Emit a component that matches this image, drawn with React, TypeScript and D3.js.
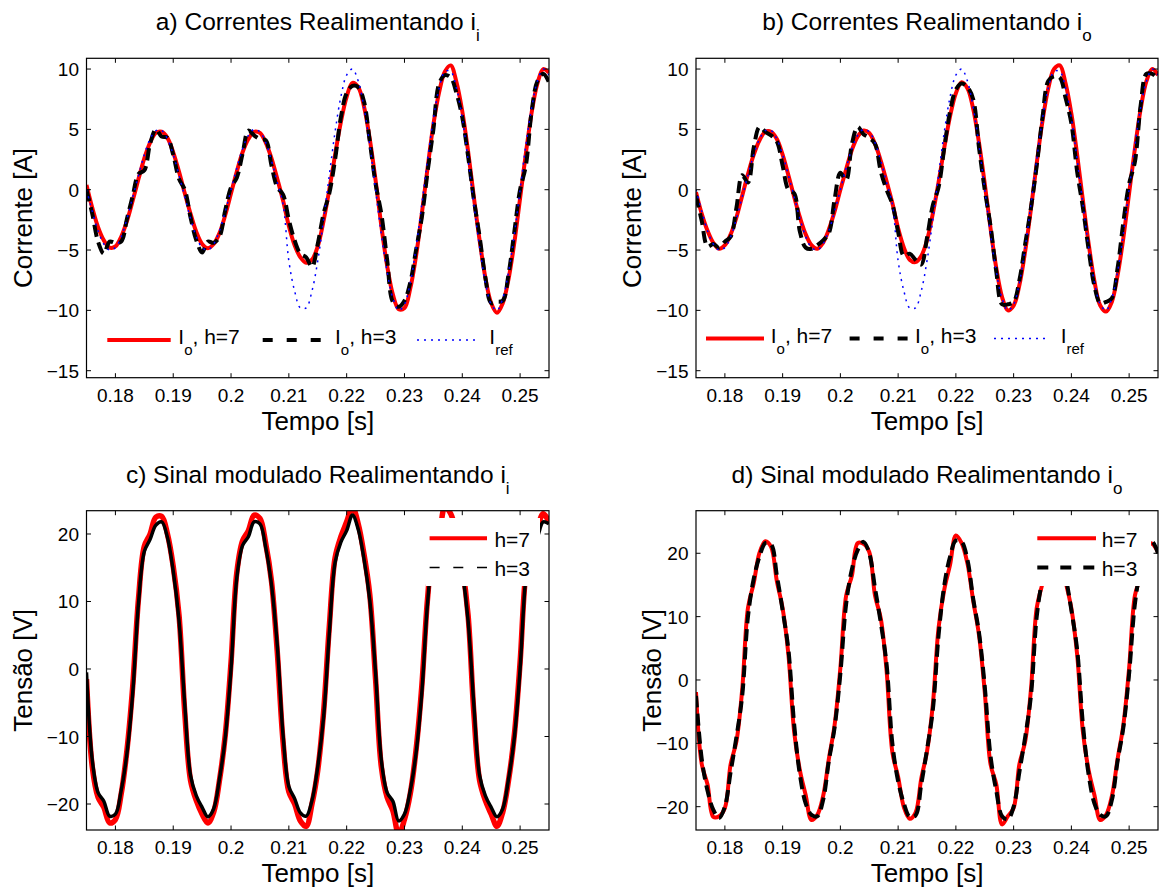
import React from 'react';
import * as d3 from 'd3';

// ---------------- data ----------------
const TIME = [
  0.175, 0.176, 0.177, 0.178, 0.179, 0.18, 0.181, 0.182, 0.183, 0.184,
  0.185, 0.186, 0.187, 0.188, 0.189, 0.19, 0.191, 0.192, 0.193, 0.194,
  0.195, 0.196, 0.197, 0.198, 0.199, 0.2, 0.201, 0.202, 0.203, 0.204,
  0.205, 0.206, 0.207, 0.208, 0.209, 0.21, 0.211, 0.212, 0.213, 0.214,
  0.215, 0.216, 0.217, 0.218, 0.219, 0.22, 0.221, 0.222, 0.223, 0.224,
  0.225, 0.226, 0.227, 0.228, 0.229, 0.23, 0.231, 0.232, 0.233, 0.234,
  0.235, 0.236, 0.237, 0.238, 0.239, 0.24, 0.241, 0.242, 0.243, 0.244,
  0.245, 0.246, 0.247, 0.248, 0.249, 0.25, 0.251, 0.252, 0.253, 0.254,
  0.255,
];

const X_TICKS = [0.18, 0.19, 0.2, 0.21, 0.22, 0.23, 0.24, 0.25];
const X_TICK_LABELS = ['0.18', '0.19', '0.2', '0.21', '0.22', '0.23', '0.24', '0.25'];
const Y_TICKS_CURRENT = [-15, -10, -5, 0, 5, 10];
const Y_TICKS_VOLTAGE = [-20, -10, 0, 10, 20];

// a) currents, feedback i_i
const A_H7 = [
  0.4, -1.5, -3.1, -4.2, -4.8, -4.7, -3.9, -2.6, -0.9, 0.9,
  2.6, 3.9, 4.7, 4.8, 4.3, 3.1, 1.5, -0.3, -2.0, -3.5,
  -4.5, -4.85, -4.5, -3.6, -2.1, -0.3, 1.5, 3.1, 4.2, 4.8,
  4.7, 3.9, 2.6, 0.9, -0.9, -3.0, -4.6, -5.6, -6.05, -5.8,
  -4.7, -2.6, 0.0, 2.9, 5.6, 7.7, 8.85, 8.5, 6.9, 4.2,
  0.8, -3.0, -6.3, -8.7, -9.9, -9.8, -8.2, -5.5, -2.0, 1.8,
  5.4, 8.1, 9.8, 10.3, 8.9, 6.5, 3.2, -0.6, -4.2, -7.3,
  -9.4, -10.2, -9.4, -7.4, -4.4, -0.7, 3.0, 6.4, 8.8, 10.0,
  9.7,
];
const A_H3 = [
  0.0, -2.0, -4.3, -5.3, -4.3, -4.4, -4.3, -2.4, -0.5, 1.3,
  1.6, 3.8, 5.0, 4.4, 4.3, 2.9, 0.9, 0.0, -2.3, -4.2,
  -5.2, -4.3, -4.4, -3.9, -1.7, 0.2, 1.0, 3.0, 4.9, 4.5,
  4.2, 4.1, 2.0, 0.2, -0.4, -2.5, -4.2, -5.3, -5.6, -6.4,
  -4.5, -2.0, -0.3, 2.5, 6.0, 8.0, 8.6, 8.5, 7.3, 4.0,
  0.5, -2.0, -5.8, -9.3, -9.7, -9.2, -7.7, -5.0, -2.3, 1.5,
  5.0, 8.8, 9.5, 9.3, 8.0, 6.0, 2.8, -0.8, -3.9, -7.3,
  -9.4, -9.3, -9.2, -7.0, -3.5, 0.0, 2.0, 6.5, 9.0, 9.6,
  8.9,
];
// reference current (same in a and b)
const I_REF = [
  0.0, -1.8, -3.4, -4.5, -5.0, -4.8, -3.9, -2.4, -0.6, 1.2,
  2.9, 4.2, 4.9, 4.9, 4.2, 2.9, 1.2, -0.6, -2.4, -3.9,
  -4.8, -5.0, -4.5, -3.4, -1.8, 0.0, 1.8, 3.4, 4.5, 5.0,
  4.8, 3.9, 2.4, 0.6, -1.2, -5.9, -8.4, -9.8, -9.8, -8.4,
  -5.9, -2.5, 1.2, 4.8, 7.7, 9.5, 10.0, 9.0, 6.8, 3.7,
  0.0, -3.7, -6.8, -9.0, -10.0, -9.5, -7.7, -4.8, -1.2, 2.5,
  5.9, 8.4, 9.8, 9.8, 8.4, 5.9, 2.5, -1.2, -4.8, -7.7,
  -9.5, -10.0, -9.0, -6.8, -3.7, 0.0, 3.7, 6.8, 9.0, 10.0,
  9.5,
];

// b) currents, feedback i_o
const B_H7 = [
  -0.2, -2.0, -3.4, -4.4, -4.9, -4.6, -3.7, -2.3, -0.5, 1.3,
  2.9, 4.1, 4.8, 4.8, 4.2, 2.9, 1.2, -0.6, -2.3, -3.7,
  -4.6, -4.9, -4.4, -3.3, -1.8, 0.0, 1.7, 3.3, 4.4, 4.9,
  4.7, 3.8, 2.4, 0.7, -1.1, -3.2, -4.8, -5.8, -6.0, -5.5,
  -4.2, -2.0, 0.6, 3.5, 6.1, 8.0, 8.9, 8.4, 6.7, 3.9,
  0.5, -3.2, -6.5, -8.9, -10.0, -9.6, -7.9, -5.1, -1.6, 2.2,
  5.7, 8.4, 10.0, 10.3, 8.8, 6.3, 2.9, -0.9, -4.5, -7.6,
  -9.6, -10.1, -9.3, -7.1, -4.0, -0.3, 3.4, 6.7, 9.0, 10.0,
  9.5,
];
const B_H3 = [
  -0.5, -2.6, -4.7, -4.5, -4.8, -4.3, -3.9, -1.5, 1.2, 0.6,
  3.5, 5.2, 4.8, 4.5, 4.0, 2.0, 0.0, -0.3, -3.5, -4.8,
  -4.9, -4.6, -4.2, -3.6, -0.8, 1.4, 0.8, 3.8, 5.2, 4.6,
  4.3, 3.8, 1.5, 0.0, -1.2, -3.5, -5.5, -5.3, -5.8, -6.2,
  -4.0, -1.3, 0.2, 3.5, 6.5, 8.3, 8.8, 8.5, 7.5, 3.5,
  0.0, -3.0, -6.8, -9.5, -9.5, -9.3, -7.5, -4.5, -1.5, 2.0,
  6.0, 9.0, 9.4, 9.3, 7.6, 5.5, 1.5, -1.5, -5.0, -8.0,
  -9.4, -9.3, -9.0, -6.5, -2.7, 0.5, 2.3, 7.0, 9.6, 9.6,
  9.2,
];

// c) modulated signal, feedback i_i
const C_H7 = [
  -1.5, -14.5, -19.0, -20.5, -22.8, -22.3, -18.5, -12.0, -2.5, 10.5,
  18.2, 20.0, 22.5, 22.6, 20.0, 15.2, 8.0, -6.5, -16.5, -19.5,
  -21.5, -22.8, -21.2, -16.5, -9.8, 1.0, 14.3, 19.0, 20.5, 22.8,
  22.3, 18.6, 13.0, 2.5, -10.8, -18.2, -20.0, -22.5, -23.3, -20.0,
  -15.0, -6.5, 6.3, 16.5, 19.6, 21.8, 24.0, 21.5, 17.0, 11.0,
  -1.5, -14.5, -19.0, -21.0, -24.5, -22.3, -18.5, -12.0, -2.5, 10.5,
  18.2, 20.0, 24.0, 23.0, 20.0, 15.2, 8.0, -6.5, -16.5, -19.5,
  -21.5, -23.3, -21.2, -16.5, -9.8, 1.0, 14.3, 19.0, 21.0, 23.0,
  21.8,
];
const C_H3 = [
  -0.5, -13.5, -18.3, -19.6, -21.8, -21.5, -18.0, -12.5, -3.5, 9.8,
  17.4, 19.2, 21.3, 21.8, 19.5, 14.5, 7.2, -5.3, -15.8, -18.8,
  -20.5, -21.9, -20.7, -16.3, -10.2, 0.0, 13.5, 18.3, 19.6, 21.8,
  21.5, 18.0, 12.5, 3.5, -9.8, -17.4, -19.2, -21.3, -21.8, -19.5,
  -14.5, -7.2, 5.3, 15.8, 18.8, 20.5, 22.8, 20.7, 16.3, 10.2,
  -0.5, -13.5, -18.3, -19.6, -22.5, -21.5, -18.0, -12.5, -3.5, 9.8,
  17.4, 19.2, 21.3, 21.8, 19.5, 14.5, 7.2, -5.3, -15.8, -18.8,
  -20.5, -21.9, -20.7, -16.3, -10.2, 0.0, 13.5, 18.3, 19.6, 21.8,
  21.5,
];

// d) modulated signal, feedback i_o
const D_H7 = [
  -1.9, -13.3, -16.5, -21.6, -21.5, -20.2, -13.3, -9.7, -1.5, 11.4,
  15.3, 20.1, 21.9, 21.0, 15.6, 11.3, 4.0, -8.2, -14.3, -18.2,
  -22.1, -21.3, -18.4, -12.5, -7.1, 1.9, 13.3, 16.5, 21.6, 21.5,
  20.2, 13.3, 9.7, 1.5, -11.4, -15.3, -20.1, -21.9, -21.0, -15.6,
  -11.3, -4.0, 8.2, 14.3, 18.2, 22.8, 21.6, 18.4, 12.5, 7.1,
  -1.9, -13.3, -16.5, -22.8, -21.5, -20.2, -13.3, -9.7, -1.5, 11.4,
  15.3, 20.1, 21.9, 21.0, 15.6, 11.3, 4.0, -8.2, -14.3, -18.2,
  -22.1, -21.3, -18.4, -12.5, -7.1, 1.9, 13.3, 16.5, 21.6, 21.5,
  20.2,
];
const D_H3 = [
  -2.5, -12.5, -17.5, -20.5, -21.8, -20.0, -14.5, -9.0, -2.5, 10.0,
  16.0, 19.5, 21.6, 21.4, 16.5, 11.0, 4.8, -7.0, -15.0, -19.5,
  -21.3, -21.5, -19.0, -12.8, -7.5, 1.0, 12.0, 17.5, 20.5, 21.8,
  20.0, 14.5, 9.0, 2.5, -10.0, -16.0, -19.5, -21.6, -21.4, -16.5,
  -11.0, -4.8, 7.0, 15.0, 19.5, 22.0, 21.8, 19.0, 12.8, 7.5,
  -1.0, -12.0, -17.5, -21.5, -22.0, -20.0, -14.5, -9.0, -2.5, 10.0,
  16.0, 19.5, 21.6, 21.4, 16.5, 11.0, 4.8, -7.0, -15.0, -19.5,
  -21.3, -21.5, -19.0, -12.8, -7.5, 1.0, 12.0, 17.5, 20.5, 21.8,
  20.0,
];

// ---------------- styling ----------------
const FONT = '"Liberation Sans", Arial, Helvetica, sans-serif';
const RED = '#ff0000';
const BLUE = '#0000ff';

type Series = { values: number[]; color: string; width: number; dash?: string };

type PanelProps = {
  id: string;
  left: number;
  right: number;
  top: number;
  bottom: number;
  yDomain: [number, number];
  yTicks: number[];
  titleMain: string;
  titleSub: string;
  titleY: number;
  yLabel: string;
  yLabelX: number;
  series: Series[];
  children?: React.ReactNode;
};

const fmtY = (v: number) => (v < 0 ? '\u2212' + Math.abs(v) : String(v));

function Panel(p: PanelProps) {
  const x = d3.scaleLinear().domain([0.175, 0.255]).range([p.left, p.right]);
  const y = d3.scaleLinear().domain(p.yDomain).range([p.bottom, p.top]);
  const line = d3
    .line<number>()
    .x((_, i) => x(TIME[i]))
    .y((v) => y(v))
    .curve(d3.curveCatmullRom.alpha(0.5));
  const tl = 4.5;
  const cx = (p.left + p.right) / 2;
  const cy = (p.top + p.bottom) / 2;
  return (
    <g>
      <defs>
        <clipPath id={'clip-' + p.id}>
          <rect x={p.left} y={p.top} width={p.right - p.left} height={p.bottom - p.top} />
        </clipPath>
      </defs>
      <g clipPath={`url(#clip-${p.id})`}>
        {p.series.map((s, i) => (
          <path
            key={i}
            d={line(s.values) || ''}
            fill="none"
            stroke={s.color}
            strokeWidth={s.width}
            strokeDasharray={s.dash}
            strokeLinejoin="round"
          />
        ))}
        {p.children}
      </g>
      {X_TICKS.map((t, i) => (
        <g key={'xt' + i}>
          <line x1={x(t)} x2={x(t)} y1={p.bottom} y2={p.bottom - tl} stroke="#000" strokeWidth={1} />
          <line x1={x(t)} x2={x(t)} y1={p.top} y2={p.top + tl} stroke="#000" strokeWidth={1} />
          <text x={x(t)} y={p.bottom + 23.8} textAnchor="middle" fontSize={19} fontFamily={FONT} fill="#000">
            {X_TICK_LABELS[i]}
          </text>
        </g>
      ))}
      {p.yTicks.map((t, i) => (
        <g key={'yt' + i}>
          <line x1={p.left} x2={p.left + tl} y1={y(t)} y2={y(t)} stroke="#000" strokeWidth={1} />
          <line x1={p.right} x2={p.right - tl} y1={y(t)} y2={y(t)} stroke="#000" strokeWidth={1} />
          <text x={p.left - 7.5} y={y(t) + 7} textAnchor="end" fontSize={19} fontFamily={FONT} fill="#000">
            {fmtY(t)}
          </text>
        </g>
      ))}
      <rect
        x={p.left}
        y={p.top}
        width={p.right - p.left}
        height={p.bottom - p.top}
        fill="none"
        stroke="#000"
        strokeWidth={1.2}
      />
      <text x={cx} y={p.titleY} textAnchor="middle" fontSize={24.5} fontFamily={FONT} fill="#000">
        <tspan>{p.titleMain}</tspan>
        <tspan fontSize={17} dy={11}>
          {p.titleSub}
        </tspan>
      </text>
      <text x={cx} y={p.bottom + 52.3} textAnchor="middle" fontSize={26} fontFamily={FONT} fill="#000">
        Tempo [s]
      </text>
      <text
        transform={`translate(${p.yLabelX},${cy}) rotate(-90)`}
        textAnchor="middle"
        fontSize={26}
        fontFamily={FONT}
        fill="#000"
      >
        {p.yLabel}
      </text>
    </g>
  );
}

function SubLabel({ x, y, main, sub, rest }: { x: number; y: number; main: string; sub: string; rest?: string }) {
  return (
    <text x={x} y={y} fontSize={21} fontFamily={FONT} fill="#000">
      <tspan>{main}</tspan>
      <tspan fontSize={15} dy={11}>
        {sub}
      </tspan>
      {rest ? <tspan dy={-11}>{rest}</tspan> : null}
    </text>
  );
}

function CurrentLegend({ y, items }: { y: number; items: { x1: number; x2: number; tx: number }[] }) {
  const [r, k, b] = items;
  return (
    <g>
      <line x1={r.x1} x2={r.x2} y1={y} y2={y} stroke={RED} strokeWidth={4} />
      <SubLabel x={r.tx} y={y + 4} main="I" sub="o" rest=", h=7" />
      <line x1={k.x1} x2={k.x2} y1={y} y2={y} stroke="#000" strokeWidth={4} strokeDasharray="10,14" />
      <SubLabel x={k.tx} y={y + 4} main="I" sub="o" rest=", h=3" />
      <line x1={b.x1} x2={b.x2} y1={y} y2={y} stroke={BLUE} strokeWidth={1.5} strokeDasharray="2,5" />
      <SubLabel x={b.tx} y={y + 4} main="I" sub="ref" />
    </g>
  );
}

function VoltageLegend({
  box,
  x1,
  x2,
  tx,
  dashWidth,
  dash,
}: {
  box: [number, number, number, number];
  x1: number;
  x2: number;
  tx: number;
  dashWidth: number;
  dash: string;
}) {
  return (
    <g>
      <rect x={box[0]} y={box[1]} width={box[2]} height={box[3]} fill="#fff" />
      <line x1={x1} x2={x2} y1={538.3} y2={538.3} stroke={RED} strokeWidth={4} />
      <text x={tx} y={546.6} fontSize={21} fontFamily={FONT} fill="#000">
        h=7
      </text>
      <line x1={x1} x2={x2} y1={567.5} y2={567.5} stroke="#000" strokeWidth={dashWidth} strokeDasharray={dash} />
      <text x={tx} y={576} fontSize={21} fontFamily={FONT} fill="#000">
        h=3
      </text>
    </g>
  );
}

export default function App() {
  const AL = 86.5, AR = 549, BL = 696, BR = 1158;
  const T1 = 58.3, B1 = 377.7, T2 = 510.7, B2 = 830;
  return (
    <div style={{ position: 'absolute', left: 0, top: 0 }}>
      <svg width={1160} height={889} style={{ display: 'block', background: '#fff' }}>
        <rect x={0} y={0} width={1160} height={889} fill="#fff" />
        <Panel
          id="a"
          left={AL}
          right={AR}
          top={T1}
          bottom={B1}
          yDomain={[-15.58, 10.89]}
          yTicks={Y_TICKS_CURRENT}
          titleMain="a) Correntes Realimentando i"
          titleSub="i"
          titleY={30}
          yLabel="Corrente [A]"
          yLabelX={32}
          series={[
            { values: A_H7, color: RED, width: 4 },
            { values: A_H3, color: '#000', width: 4, dash: '12,6' },
            { values: I_REF, color: BLUE, width: 1.5, dash: '2,5' },
          ]}
        />
        <CurrentLegend
          y={340}
          items={[
            { x1: 107.3, x2: 170.7, tx: 178.3 },
            { x1: 262.7, x2: 320.7, tx: 335 },
            { x1: 417, x2: 480, tx: 489.3 },
          ]}
        />
        <Panel
          id="b"
          left={BL}
          right={BR}
          top={T1}
          bottom={B1}
          yDomain={[-15.58, 10.89]}
          yTicks={Y_TICKS_CURRENT}
          titleMain="b) Correntes Realimentando i"
          titleSub="o"
          titleY={30}
          yLabel="Corrente [A]"
          yLabelX={641}
          series={[
            { values: B_H7, color: RED, width: 4 },
            { values: B_H3, color: '#000', width: 4, dash: '12,6' },
            { values: I_REF, color: BLUE, width: 1.5, dash: '2,5' },
          ]}
        />
        <CurrentLegend
          y={338.5}
          items={[
            { x1: 706, x2: 764, tx: 770.7 },
            { x1: 849.6, x2: 907.8, tx: 915 },
            { x1: 994, x2: 1047, tx: 1060.7 },
          ]}
        />
        <Panel
          id="c"
          left={AL}
          right={AR}
          top={T2}
          bottom={B2}
          yDomain={[-23.85, 23.45]}
          yTicks={Y_TICKS_VOLTAGE}
          titleMain="c) Sinal modulado Realimentando i"
          titleSub="i"
          titleY={483}
          yLabel="Tensão [V]"
          yLabelX={32}
          series={[
            { values: C_H7, color: RED, width: 5.5 },
            { values: C_H3, color: '#000', width: 3.5 },
          ]}
        >
          <VoltageLegend box={[426, 518, 114, 68]} x1={429.6} x2={487} tx={494.4} dashWidth={1.5} dash="10,13.7" />
        </Panel>
        <Panel
          id="d"
          left={BL}
          right={BR}
          top={T2}
          bottom={B2}
          yDomain={[-23.68, 26.72]}
          yTicks={Y_TICKS_VOLTAGE}
          titleMain="d) Sinal modulado Realimentando i"
          titleSub="o"
          titleY={483}
          yLabel="Tensão [V]"
          yLabelX={660.5}
          series={[
            { values: D_H7, color: RED, width: 4 },
            { values: D_H3, color: '#000', width: 4, dash: '12,6' },
          ]}
        >
          <VoltageLegend box={[1030, 518, 121, 68]} x1={1037.3} x2={1096} tx={1101.7} dashWidth={4} dash="11,12" />
        </Panel>
      </svg>
    </div>
  );
}
